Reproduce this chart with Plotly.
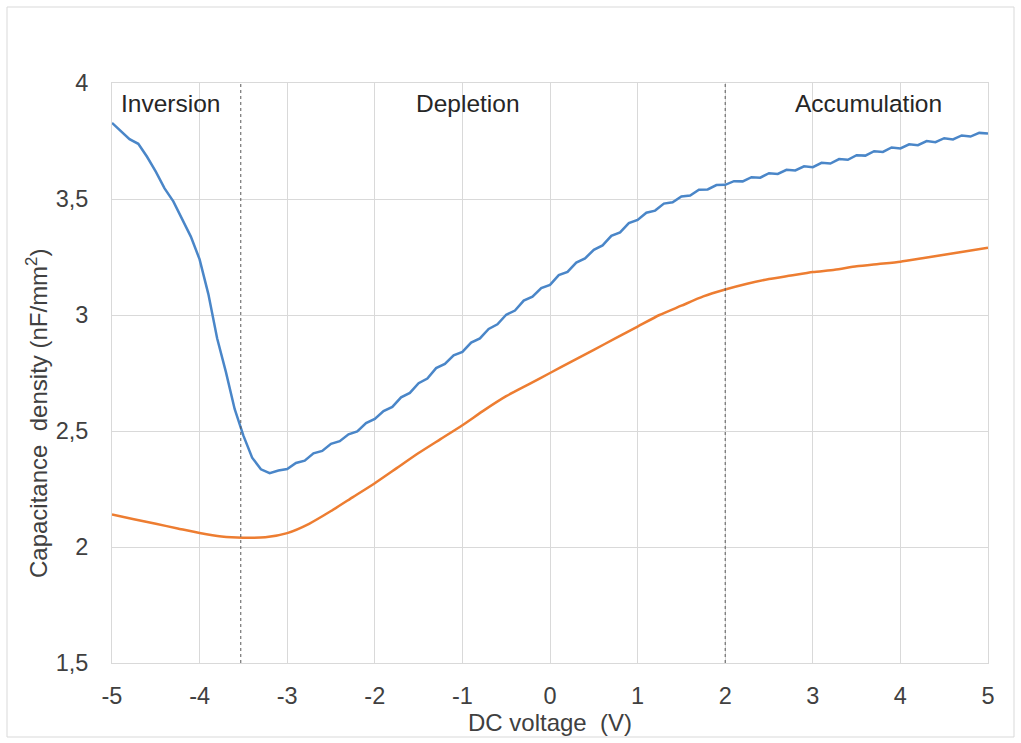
import plotly.graph_objects as go

# ---- data ----
blue_x = [round(-5 + 0.1 * i, 1) for i in range(101)]
blue_y = [
    3.828, 3.795, 3.758, 3.738, 3.682, 3.618, 3.546, 3.490, 3.417, 3.338,
    3.240, 3.090, 2.900, 2.755, 2.595, 2.480, 2.385, 2.335, 2.318, 2.330,
    2.336, 2.362, 2.372, 2.404, 2.414, 2.445, 2.456, 2.486, 2.498, 2.534,
    2.552, 2.586, 2.604, 2.645, 2.664, 2.706, 2.726, 2.771, 2.789, 2.826,
    2.841, 2.881, 2.899, 2.940, 2.960, 3.001, 3.019, 3.062, 3.079, 3.116,
    3.130, 3.172, 3.186, 3.226, 3.244, 3.281, 3.300, 3.341, 3.356, 3.396,
    3.410, 3.441, 3.450, 3.480, 3.486, 3.511, 3.515, 3.540, 3.541, 3.560,
    3.561, 3.577, 3.576, 3.594, 3.592, 3.611, 3.608, 3.626, 3.623, 3.641,
    3.637, 3.656, 3.653, 3.672, 3.669, 3.689, 3.687, 3.706, 3.703, 3.722,
    3.718, 3.736, 3.732, 3.750, 3.745, 3.762, 3.757, 3.774, 3.769, 3.785,
    3.782,
]

orange_x = [-5.0, -4.75, -4.5, -4.25, -4.0, -3.75, -3.5, -3.25, -3.0, -2.75,
            -2.5, -2.25, -2.0, -1.75, -1.5, -1.25, -1.0, -0.75, -0.5, -0.25,
            0.0, 0.25, 0.5, 0.75, 1.0, 1.25, 1.5, 1.75, 2.0, 2.25,
            2.5, 2.75, 3.0, 3.25, 3.5, 3.75, 4.0, 4.25, 4.5, 4.75, 5.0]
orange_y = [2.14, 2.12, 2.10, 2.08, 2.06, 2.045, 2.04, 2.042, 2.06, 2.10,
            2.155, 2.215, 2.275, 2.34, 2.405, 2.465, 2.525, 2.59, 2.65, 2.70,
            2.75, 2.80, 2.85, 2.90, 2.95, 3.00, 3.04, 3.08, 3.11, 3.135,
            3.155, 3.17, 3.185, 3.195, 3.21, 3.22, 3.23, 3.245, 3.26, 3.275, 3.29]

region_bounds = [-3.53, 2.0]
region_labels = ["Inversion", "Depletion", "Accumulation"]
region_label_x = [-4.33, -0.94, 3.64]
region_label_y = 3.91

x_ticks = [-5, -4, -3, -2, -1, 0, 1, 2, 3, 4, 5]
x_tick_text = ["-5", "-4", "-3", "-2", "-1", "0", "1", "2", "3", "4", "5"]
y_ticks = [1.5, 2, 2.5, 3, 3.5, 4]
y_tick_text = ["1,5", "2", "2,5", "3", "3,5", "4"]

x_title = "DC voltage\u00a0 (V)"
y_title = "Capacitance\u00a0 density (nF/mm<sup>2</sup>)"

FONT = "Liberation Sans, Arial, sans-serif"
TXT = "#404040"
GRID = "#d9d9d9"

fig = go.Figure()
fig.add_trace(go.Scatter(x=orange_x, y=orange_y, mode="lines",
                         line=dict(color="#ed7d31", width=2.5, shape="spline", smoothing=0.6),
                         showlegend=False))
fig.add_trace(go.Scatter(x=blue_x, y=blue_y, mode="lines",
                         line=dict(color="#4a86c8", width=2.5),
                         showlegend=False))

for b in region_bounds:
    fig.add_shape(type="line", xref="x", yref="y", x0=b, x1=b, y0=1.5, y1=4,
                  line=dict(color="#595959", width=1, dash="dot"))

for t, xv in zip(region_labels, region_label_x):
    fig.add_annotation(x=xv, y=region_label_y, xref="x", yref="y", text=t,
                       showarrow=False, font=dict(family=FONT, size=24.5, color="#262626"))

# y-axis title (placed like the reference, slightly below the plot centre)
fig.add_annotation(x=(37 - 112) / 876, y=(663 - 414) / 580, xref="paper", yref="paper",
                   text=y_title, textangle=-90, showarrow=False,
                   xanchor="center", yanchor="middle",
                   font=dict(family=FONT, size=24, color=TXT))

# outer chart border
fig.add_shape(type="rect", xref="paper", yref="paper",
              x0=(7 - 112) / 876, x1=(1014 - 112) / 876,
              y0=(663 - 737) / 580, y1=(663 - 7) / 580,
              line=dict(color=GRID, width=1), fillcolor="rgba(0,0,0,0)", layer="below")

fig.update_layout(
    width=1021, height=743,
    margin=dict(l=112, r=33, t=83, b=80),
    paper_bgcolor="white", plot_bgcolor="white",
    font=dict(family=FONT, size=23, color=TXT),
)
fig.update_xaxes(range=[-5, 5], tickvals=x_ticks, ticktext=x_tick_text,
                 showgrid=True, gridcolor=GRID, gridwidth=1,
                 showline=True, linecolor=GRID, linewidth=1, mirror=True, zeroline=False,
                 ticks="", ticklabelstandoff=12,
                 tickfont=dict(family=FONT, size=23.5, color=TXT),
                 title=dict(text=x_title, standoff=4,
                            font=dict(family=FONT, size=24, color=TXT)))
fig.update_yaxes(range=[1.5, 4], tickvals=y_ticks, ticktext=y_tick_text,
                 showgrid=True, gridcolor=GRID, gridwidth=1,
                 showline=True, linecolor=GRID, linewidth=1, mirror=True, zeroline=False,
                 ticks="", ticklabelstandoff=18,
                 tickfont=dict(family=FONT, size=23.5, color=TXT))

fig.write_html("out.html")
